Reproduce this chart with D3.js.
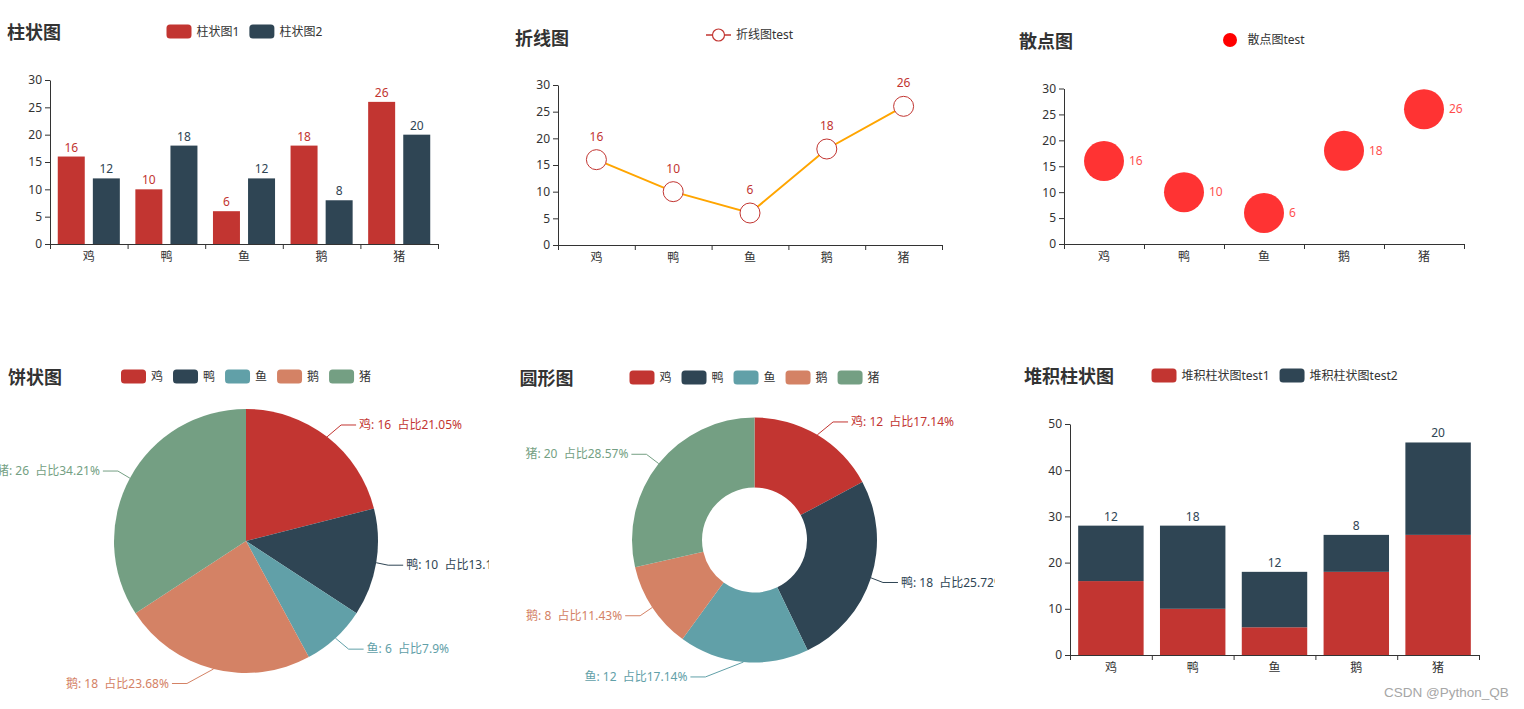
<!DOCTYPE html>
<html><head><meta charset="utf-8">
<script src="https://cdn.jsdelivr.net/npm/d3@7"></script>
<style>
body{margin:0;background:#fff;overflow:hidden;}
svg{display:block;font-family:"Noto Sans","Noto Sans CJK SC",sans-serif;}
text{white-space:pre;}
</style></head><body>
<svg id="c" width="1524" height="709"></svg>
<script>
// ---------------- data ----------------
const categories = ["鸡","鸭","鱼","鹅","猪"];
const barNames = ["柱状图1","柱状图2"];
const barSeries1 = [16,10,6,18,26];
const barSeries2 = [12,18,12,8,20];
const lineName = "折线图test";
const lineValues = [16,10,6,18,26];
const scatterName = "散点图test";
const scatterValues = [16,10,6,18,26];
const pieValues = [16,10,6,18,26];
const donutValues = [12,18,12,8,20];
const stackNames = ["堆积柱状图test1","堆积柱状图test2"];
const stackSeries1 = [16,10,6,18,26];
const stackSeries2 = [12,18,12,8,20];
const yTicks30 = [0,5,10,15,20,25,30];
const yTicks50 = [0,10,20,30,40,50];
const titles = ["柱状图","折线图","散点图","饼状图","圆形图","堆积柱状图"];
const watermark = "CSDN @Python_QB";
const palette = ["#c23531","#2f4554","#61a0a8","#d48265","#749f83"];

const svg = d3.select("#c");
const TXT = "#333";

// ---------------- helpers ----------------
function title(t, x, y){
  svg.append("text").attr("x",x).attr("y",y).attr("dy","0.35em")
    .attr("font-size",18).attr("font-weight","bold").attr("fill",TXT).text(t);
}
function legend(items, x, cy){
  let cx = x;
  items.forEach(it=>{
    const g = svg.append("g");
    if(it.type==="line"){
      g.append("line").attr("x1",cx).attr("x2",cx+25).attr("y1",cy).attr("y2",cy)
        .attr("stroke",it.color).attr("stroke-width",2).attr("opacity",0.75);
      g.append("circle").attr("cx",cx+12.5).attr("cy",cy).attr("r",6)
        .attr("fill","#fff").attr("stroke",it.color).attr("stroke-width",1.2);
    } else if(it.type==="circle"){
      g.append("circle").attr("cx",cx+12.5).attr("cy",cy).attr("r",7).attr("fill",it.color);
    } else {
      g.append("rect").attr("x",cx).attr("y",cy-7).attr("width",25).attr("height",14)
        .attr("rx",3.5).attr("fill",it.color);
    }
    const t = g.append("text").attr("x",cx+30).attr("y",cy).attr("dy","0.35em")
      .attr("font-size",12).attr("fill",TXT).text(it.name);
    cx += 30 + t.node().getComputedTextLength() + 10;
  });
}
function axes(x0,x1,yBottom,yTop,maxV,ticks){
  const y = d3.scaleLinear().domain([0,maxV]).range([yBottom,yTop]);
  const x = d3.scaleBand().domain(categories).range([x0,x1]);
  const xb = d3.scaleLinear().domain([0,categories.length]).range([x0,x1]);
  const ya = svg.append("g").attr("transform",`translate(${x0},0)`)
    .call(d3.axisLeft(y).tickValues(ticks).tickSize(5).tickSizeOuter(0).tickPadding(3));
  const xt = svg.append("g").attr("transform",`translate(0,${yBottom})`)
    .call(d3.axisBottom(xb).tickValues(d3.range(categories.length+1)).tickFormat("").tickSize(5).tickSizeOuter(0));
  const xl = svg.append("g").attr("transform",`translate(0,${yBottom})`)
    .call(d3.axisBottom(x).tickSize(0).tickPadding(8));
  xl.select(".domain").remove();
  [ya,xt,xl].forEach(g=>{
    g.attr("font-family",null).attr("font-size",12);
    g.selectAll(".domain,line").attr("stroke",TXT);
    g.selectAll("text").attr("fill",TXT);
  });
  return {x,y};
}
function percents(vals, prec){
  const sum = d3.sum(vals), digits = Math.pow(10,prec), target = 100*digits;
  const votes = vals.map(v=>v/sum*target);
  const seats = votes.map(Math.floor);
  const rem = votes.map((v,i)=>v-seats[i]);
  let cur = d3.sum(seats);
  while(cur<target){ const mi = d3.maxIndex(rem); seats[mi]++; rem[mi]=-1; cur++; }
  return seats.map(s=>s/digits);
}
function pieChart(vals, cx, cy, rIn, rOut, clipId, clipRect){
  svg.append("clipPath").attr("id",clipId).append("rect")
    .attr("x",clipRect[0]).attr("y",clipRect[1]).attr("width",clipRect[2]).attr("height",clipRect[3]);
  const g = svg.append("g").attr("clip-path",`url(#${clipId})`);
  const arcs = d3.pie().sort(null)(vals);
  const arc = d3.arc().innerRadius(rIn).outerRadius(rOut);
  g.append("g").attr("transform",`translate(${cx},${cy})`).selectAll("path").data(arcs).join("path")
    .attr("d",arc).attr("fill",(d,i)=>palette[i]);
  const pct = percents(vals,2);
  const len = 15, len2 = 15;
  arcs.forEach((d,i)=>{
    const a = (d.startAngle+d.endAngle)/2;
    const dx = Math.sin(a), dy = -Math.cos(a);
    const dir = dx<0?-1:1;
    const x1 = cx + rOut*dx, y1 = cy + rOut*dy;
    const y2 = cy + (rOut+len)*dy;
    const dY = Math.abs(y2-cy);
    const R = rOut+len+len2;
    const dX = Math.sqrt(R*R - dY*dY);
    const lx = cx + dir*dX;
    const endX = lx - dir*3, midX = endX - dir*len2;
    g.append("polyline").attr("points",`${x1},${y1} ${midX},${y2} ${endX},${y2}`)
      .attr("fill","none").attr("stroke",palette[i]).attr("stroke-width",1);
    g.append("text").attr("x",lx).attr("y",y2).attr("dy","0.35em")
      .attr("text-anchor",dir>0?"start":"end").attr("font-size",12).attr("fill",palette[i])
      .text(`${categories[i]}: ${vals[i]}  占比${pct[i]}%`);
  });
}

// ---------------- 1. 柱状图 ----------------
title(titles[0], 7, 33);
legend([{name:barNames[0],color:palette[0]},{name:barNames[1],color:palette[1]}], 166.5, 31.5);
{
  const {x,y} = axes(50,438,244,80,30,yTicks30);
  const bw = x.bandwidth();
  const xs = d3.scaleBand().domain([0,1]).range([0,bw*0.8]).paddingInner(0.3/1.3);
  [barSeries1,barSeries2].forEach((s,si)=>{
    const g = svg.append("g");
    g.selectAll("rect").data(s).join("rect")
      .attr("x",(d,i)=>x(categories[i])+bw*0.1+xs(si)).attr("width",xs.bandwidth())
      .attr("y",d=>y(d)).attr("height",d=>y(0)-y(d)).attr("fill",palette[si]);
    g.selectAll("text").data(s).join("text")
      .attr("x",(d,i)=>x(categories[i])+bw*0.1+xs(si)+xs.bandwidth()/2).attr("y",d=>y(d)-5)
      .attr("text-anchor","middle").attr("font-size",12).attr("fill",palette[si]).text(d=>d);
  });
}

// ---------------- 2. 折线图 ----------------
title(titles[1], 515, 38.5);
legend([{name:lineName,color:palette[0],type:"line"}], 706, 35);
{
  const {x,y} = axes(558,942,245,85,30,yTicks30);
  const cxf = (d,i)=>x(categories[i])+x.bandwidth()/2;
  svg.append("path").datum(lineValues)
    .attr("d",d3.line().x(cxf).y(d=>y(d)))
    .attr("fill","none").attr("stroke","#FFA500").attr("stroke-width",2);
  svg.append("g").selectAll("circle").data(lineValues).join("circle")
    .attr("cx",cxf).attr("cy",d=>y(d)).attr("r",10)
    .attr("fill","#fff").attr("stroke",palette[0]).attr("stroke-width",1);
  svg.append("g").selectAll("text").data(lineValues).join("text")
    .attr("x",cxf).attr("y",d=>y(d)-19).attr("text-anchor","middle")
    .attr("font-size",12).attr("fill",palette[0]).text(d=>d);
}

// ---------------- 3. 散点图 ----------------
title(titles[2], 1019, 42);
legend([{name:scatterName,color:"#ff0000",type:"circle"}], 1217.5, 40);
{
  const {x,y} = axes(1064,1464,244,88.5,30,yTicks30);
  const cxf = (d,i)=>x(categories[i])+x.bandwidth()/2;
  svg.append("g").selectAll("circle").data(scatterValues).join("circle")
    .attr("cx",cxf).attr("cy",d=>y(d)).attr("r",20).attr("fill","#ff0000").attr("opacity",0.8);
  svg.append("g").selectAll("text").data(scatterValues).join("text")
    .attr("x",(d,i)=>cxf(d,i)+25).attr("y",d=>y(d)).attr("dy","0.35em")
    .attr("font-size",12).attr("fill","#ff0000").attr("opacity",0.7).text(d=>d);
}

// ---------------- 4. 饼状图 ----------------
title(titles[3], 8, 378);
legend(categories.map((c,i)=>({name:c,color:palette[i]})), 121, 376.5);
pieChart(pieValues, 246, 541, 0, 132, "clipPie", [-10,360,499,360]);

// ---------------- 5. 圆形图 ----------------
title(titles[4], 519.5, 379);
legend(categories.map((c,i)=>({name:c,color:palette[i]})), 629.5, 377.5);
pieChart(donutValues, 754.5, 540, 52.5, 122.5, "clipDonut", [505,360,490,360]);

// ---------------- 6. 堆积柱状图 ----------------
title(titles[5], 1024, 376.5);
legend([{name:stackNames[0],color:palette[0]},{name:stackNames[1],color:palette[1]}], 1151.5, 375.5);
{
  const {x,y} = axes(1070,1479,655,424,50,yTicks50);
  const bw = x.bandwidth();
  const rows = categories.map((c,i)=>({c, s1:stackSeries1[i], s2:stackSeries2[i]}));
  const stacked = d3.stack().keys(["s1","s2"])(rows);
  stacked.forEach((layer,si)=>{
    svg.append("g").selectAll("rect").data(layer).join("rect")
      .attr("x",d=>x(d.data.c)+bw*0.1).attr("width",bw*0.8)
      .attr("y",d=>y(d[1])).attr("height",d=>y(d[0])-y(d[1])).attr("fill",palette[si]);
  });
  svg.append("g").selectAll("text").data(stacked[1]).join("text")
    .attr("x",d=>x(d.data.c)+bw/2).attr("y",d=>y(d[1])-5).attr("text-anchor","middle")
    .attr("font-size",12).attr("fill",palette[1]).text(d=>d.data.s2);
}

// watermark
svg.append("text").attr("x",1384).attr("y",692).attr("dy","0.35em")
  .attr("font-family","'Liberation Sans',Arial,sans-serif").attr("font-size",13.5)
  .attr("fill","#a6a6a6").text(watermark);
</script>
</body></html>
